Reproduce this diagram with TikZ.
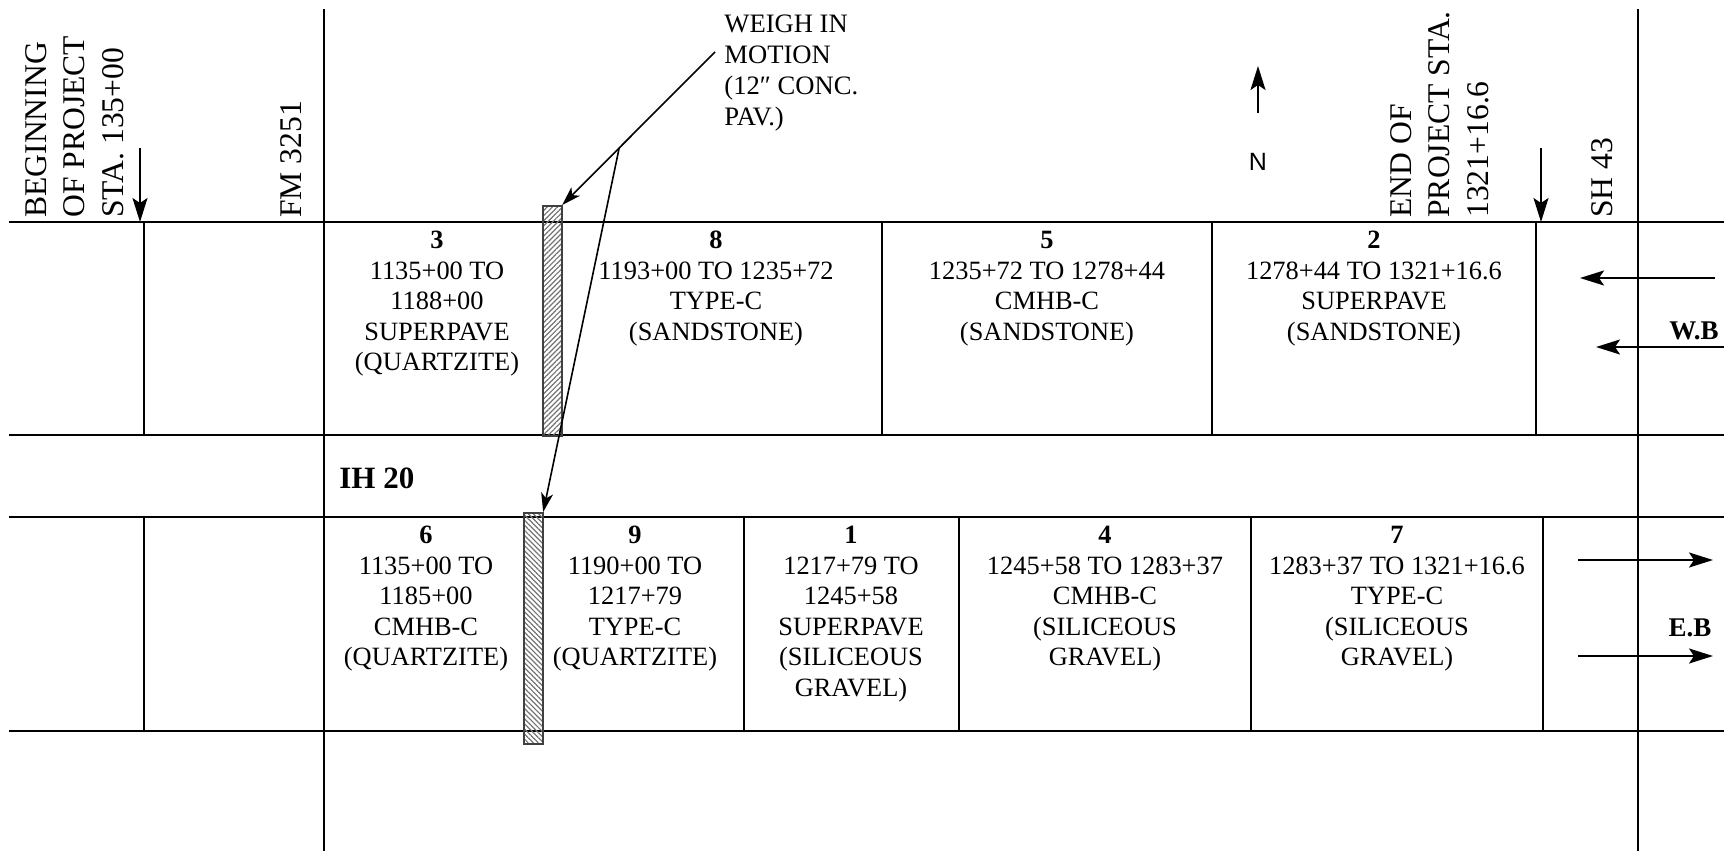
\documentclass[tikz,border=0pt]{standalone}
\usepackage{fontspec}
\setmainfont{Liberation Serif}
\newfontfamily\sansN{Liberation Sans}
\usetikzlibrary{arrows.meta,patterns.meta,calc}
\begin{document}
\begin{tikzpicture}[x=0.5pt,y=-0.5pt,
  road/.style={line width=1pt},
  cell/.style={align=center,anchor=north,inner sep=0pt,font=\fontsize{13.2}{15.25}\selectfont},
  rlabel/.style={rotate=90,anchor=north west,align=left,inner sep=0pt,font=\fontsize{15.8}{19.25}\selectfont},
  arr/.style={line width=1pt,-{Stealth[length=12pt,width=7.5pt,inset=2.5pt]}},
  leader/.style={line width=0.8pt,-{Stealth[length=9.5pt,width=6pt,inset=2.5pt]}},
  wimbox/.style={draw=black!75,line width=1pt,inner sep=0pt,minimum width=9.5pt,anchor=north west},
  boldlab/.style={inner sep=0pt,font=\bfseries\fontsize{13.5}{16}\selectfont}
]
\useasboundingbox (0,0) rectangle (1724,851);

% roads
\foreach \y in {222,435,517,731} \draw[road] (9,\y) -- (1724,\y);
\draw[road] (144,222) -- (144,435);
\draw[road] (144,517) -- (144,731);
\draw[road] (324,9) -- (324,851);
\draw[road] (1638,9) -- (1638,851);
\foreach \x in {882,1212,1536} \draw[road] (\x,222) -- (\x,435);
\foreach \x in {744,959,1251,1543} \draw[road] (\x,517) -- (\x,731);

% weigh in motion slabs
\node[wimbox,minimum height=115pt,pattern={Lines[angle=45,distance=1.8pt,line width=0.6pt]},pattern color=black!55] (wimT) at (542,205) {};
\node[wimbox,minimum height=115.5pt,pattern={Lines[angle=-45,distance=1.8pt,line width=0.6pt]},pattern color=black!55] (wimB) at (523,512) {};

% cells, westbound
\node[cell] (c3) at (437,231) {\textbf{3}\\1135+00 TO\\1188+00\\SUPERPAVE\\(QUARTZITE)};
\node[cell] (c8) at (716,231) {\textbf{8}\\1193+00 TO 1235+72\\TYPE-C\\(SANDSTONE)};
\node[cell] (c5) at (1047,231) {\textbf{5}\\1235+72 TO 1278+44\\CMHB-C\\(SANDSTONE)};
\node[cell] (c2) at (1374,231) {\textbf{2}\\1278+44 TO 1321+16.6\\SUPERPAVE\\(SANDSTONE)};
% cells, eastbound
\node[cell] (c6) at (426,526) {\textbf{6}\\1135+00 TO\\1185+00\\CMHB-C\\(QUARTZITE)};
\node[cell] (c9) at (635,526) {\textbf{9}\\1190+00 TO\\1217+79\\TYPE-C\\(QUARTZITE)};
\node[cell] (c1) at (851,526) {\textbf{1}\\1217+79 TO\\1245+58\\SUPERPAVE\\(SILICEOUS\\GRAVEL)};
\node[cell] (c4) at (1105,526) {\textbf{4}\\1245+58 TO 1283+37\\CMHB-C\\(SILICEOUS\\GRAVEL)};
\node[cell] (c7) at (1397,526) {\textbf{7}\\1283+37 TO 1321+16.6\\TYPE-C\\(SILICEOUS\\GRAVEL)};

% labels
\node[anchor=west,inner sep=0pt,font=\bfseries\fontsize{15.5}{18}\selectfont] (ih) at (339,478) {IH 20};
\node[rlabel] (beg) at (25,218) {BEGINNING\\OF PROJECT\\STA. 135+00};
\node[rlabel] (fm) at (280,218) {FM 3251};
\node[rlabel] (endp) at (1390,218) {END OF\\PROJECT STA.\\1321+16.6};
\node[rlabel] (sh) at (1591,218) {SH 43};
\node[anchor=north west,align=left,inner sep=0pt,font=\fontsize{13.3}{15.5}\selectfont] (wim) at (724,14) {WEIGH IN\\MOTION\\(12″ CONC.\\PAV.)};
\node[inner sep=0pt,font=\sansN\fontsize{12.5}{15}\selectfont] (N) at (1258,162) {N};
\node[boldlab] (wb) at (1694,331) {W.B};
\node[boldlab] (eb) at (1690,628) {E.B};

% arrows
\coordinate (b1) at (140,148); \coordinate (b2) at (140,222);
\draw[arr] (b1) -- (b2);
\coordinate (e1) at (1541,148); \coordinate (e2) at (1541,222);
\draw[arr] (e1) -- (e2);
\coordinate (n1) at (1258,113); \coordinate (n2) at (1258,66);
\draw[arr] (n1) -- (n2);
\coordinate (w1a) at (1715,278); \coordinate (w1b) at (1580,278);
\draw[arr] (w1a) -- (w1b);
\coordinate (w2a) at (1724,347); \coordinate (w2b) at (1596,347);
\draw[arr] (w2a) -- (w2b);
\coordinate (e1a) at (1578,560); \coordinate (e1b) at (1713,560);
\draw[arr] (e1a) -- (e1b);
\coordinate (e2a) at (1578,656); \coordinate (e2b) at (1713,656);
\draw[arr] (e2a) -- (e2b);

% leaders
\coordinate (ls) at (715,52);
\draw[leader] (ls) -- (wimT.north east);
\coordinate (br) at ($(ls)!0.627!(wimT.north east)$);
\draw[leader] (br) -- (wimB.north east);
\end{tikzpicture}
\end{document}
